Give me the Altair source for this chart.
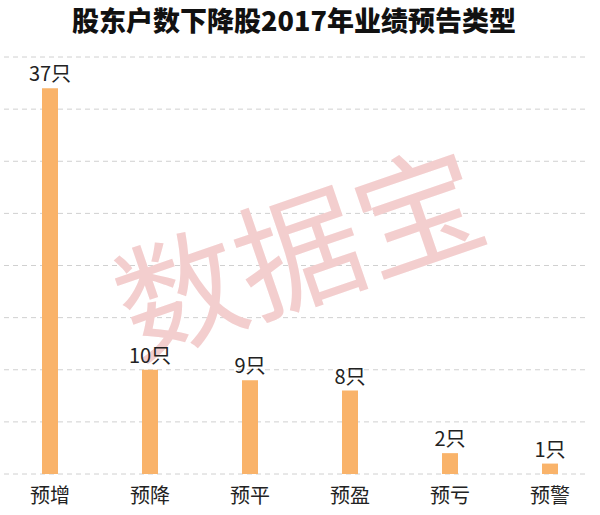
import altair as alt
import pandas as pd

title_text = "股东户数下降股2017年业绩预告类型"
watermark = "数据宝"
categories = ["预增", "预降", "预平", "预盈", "预亏", "预警"]
values = [37, 10, 9, 8, 2, 1]
grid_values = [0, 5, 10, 15, 20, 25, 30, 35, 40]

FONT = "Noto Sans CJK SC"

df = pd.DataFrame({"cat": categories, "v": values,
                   "lab": [f"{v}只" for v in values]})
grid_df = pd.DataFrame({"g": grid_values})
one = pd.DataFrame({"t": [title_text], "w": [watermark]})

yscale = alt.Scale(domain=[0, 40], nice=False, zero=True)
xenc = alt.X("cat:N", sort=categories,
             scale=alt.Scale(domain=categories, paddingInner=0, paddingOuter=0),
             axis=alt.Axis(title=None, labelAngle=0, domain=False, ticks=False,
                           grid=False, labelFontSize=20, labelFont=FONT,
                           labelColor="#222222", labelPadding=12))

grid = alt.Chart(grid_df).mark_rule(strokeDash=[5, 4], color="#d0d0d0", strokeWidth=1).encode(
    y=alt.Y("g:Q", scale=yscale, axis=None),
    x=alt.value(4), x2=alt.value(588))

wm = alt.Chart(one).mark_text(font=FONT, fontSize=126, fontWeight="normal", angle=341,
                              color="#F3CECE", align="center", baseline="middle").encode(
    text="w:N", x=alt.value(302), y=alt.value(204))

bars = alt.Chart(df).mark_bar(size=16, color="#F9B36A").encode(
    x=xenc, y=alt.Y("v:Q", scale=yscale, axis=None))

labels = alt.Chart(df).mark_text(font=FONT, fontSize=20, color="#222222",
                                 baseline="alphabetic", dy=-7).encode(
    x=xenc, y=alt.Y("v:Q", scale=yscale, axis=None), text="lab:N")

title = alt.Chart(one).mark_text(font=FONT, fontSize=27, fontWeight=900, color="#111111",
                                 align="center", baseline="middle").encode(
    text="t:N", x=alt.value(294), y=alt.value(-34))

chart = alt.layer(grid, wm, bars, labels, title).properties(
    width=600, height=417,
    padding={"left": 0, "top": 57, "right": 0, "bottom": 41},
    autosize=alt.AutoSizeParams(type="none"),
    background="white",
).configure_view(stroke=None)

chart.save("out.html", embed_options={"renderer": "svg", "actions": False})
